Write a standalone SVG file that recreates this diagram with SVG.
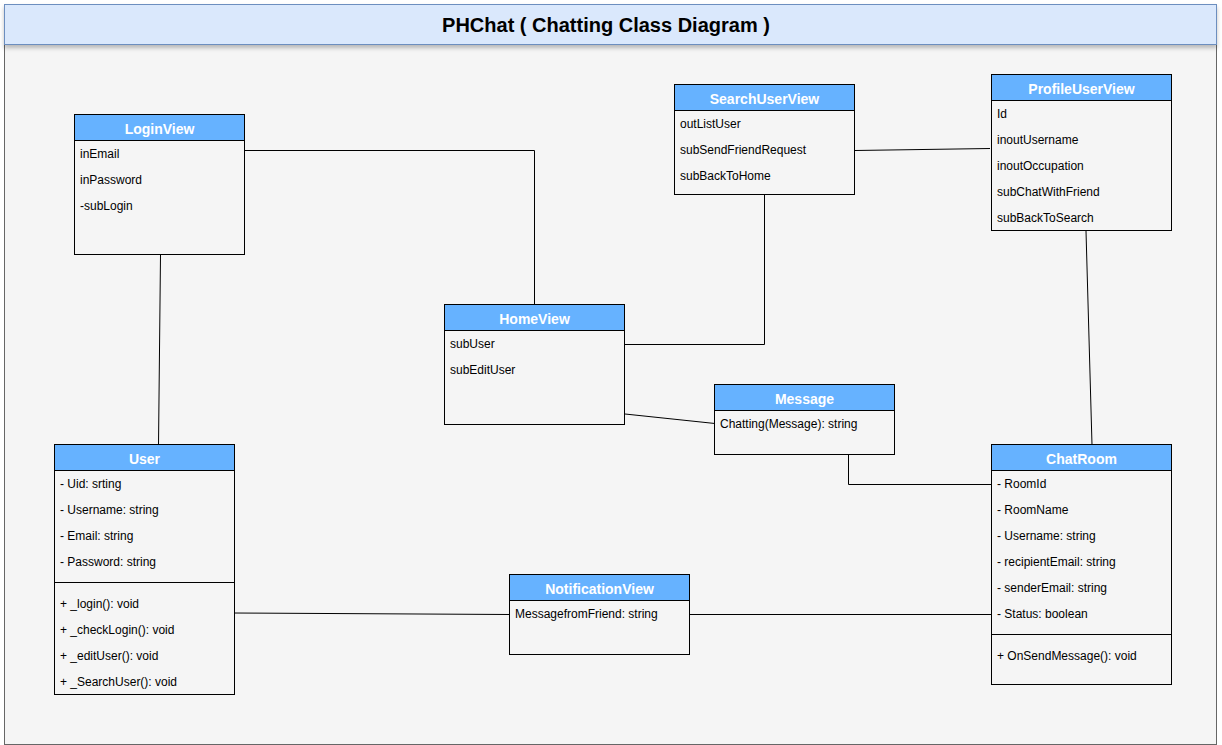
<svg xmlns="http://www.w3.org/2000/svg" width="1222" height="745" viewBox="0 0 1222 745">
<defs>
<style>
.hdr{fill:#66b2ff;stroke:#000;stroke-width:1}
.body{fill:#f5f5f5;stroke:#000;stroke-width:1}
.t{font-family:"Liberation Sans",Arial,sans-serif;font-size:12px;fill:#000}
.h{font-family:"Liberation Sans",Arial,sans-serif;font-size:14px;font-weight:bold;fill:#fff;text-anchor:middle}
.c{fill:none;stroke:#000;stroke-width:1}
</style>
<filter id="sh" x="-5%" y="-50%" width="110%" height="200%"><feDropShadow dx="0" dy="3" stdDeviation="2" flood-color="#000" flood-opacity="0.25"/></filter>
</defs>
<rect x="0" y="0" width="1222" height="745" fill="#fff"/>
<rect x="4.5" y="44.5" width="1212" height="700" fill="#f5f5f5" stroke="#666"/>
<g id="title">
<rect x="4.5" y="4.5" width="1212" height="40" fill="#dae8fc" stroke="#6c8ebf" filter="url(#sh)"/>
<text x="606" y="32" font-family="Liberation Sans,Arial,sans-serif" font-size="20" font-weight="bold" text-anchor="middle" fill="#000">PHChat ( Chatting Class Diagram )</text>
</g>
<g id="connectors">
<polyline class="c" points="245,150.5 534.5,150.5 534.5,305"/>
<line class="c" x1="160.5" y1="255" x2="158.5" y2="445"/>
<polyline class="c" points="625,344.5 764.5,344.5 764.5,194"/>
<line class="c" x1="855" y1="150.5" x2="990" y2="148.5"/>
<line class="c" x1="1086" y1="231" x2="1092" y2="445"/>
<line class="c" x1="625" y1="414" x2="715" y2="423.5"/>
<polyline class="c" points="848.5,455 848.5,484.5 992,484.5"/>
<line class="c" x1="233" y1="613" x2="510" y2="614.5"/>
<line class="c" x1="690" y1="614.5" x2="992" y2="614.5"/>
</g>
<g id="LoginView">
<rect class="body" x="74.5" y="114.5" width="170" height="140"/>
<rect class="hdr" x="74.5" y="114.5" width="170" height="26"/>
<text class="h" x="159.5" y="134">LoginView</text>
<text class="t" x="80" y="158">inEmail</text>
<text class="t" x="80" y="184">inPassword</text>
<text class="t" x="80" y="210">-subLogin</text>
</g>
<g id="SearchUserView">
<rect class="body" x="674.5" y="84.5" width="180" height="110"/>
<rect class="hdr" x="674.5" y="84.5" width="180" height="26"/>
<text class="h" x="764.5" y="104">SearchUserView</text>
<text class="t" x="680" y="128">outListUser</text>
<text class="t" x="680" y="154">subSendFriendRequest</text>
<text class="t" x="680" y="180">subBackToHome</text>
</g>
<g id="ProfileUserView">
<rect class="body" x="991.5" y="74.5" width="180" height="156"/>
<rect class="hdr" x="991.5" y="74.5" width="180" height="26"/>
<text class="h" x="1081.5" y="94">ProfileUserView</text>
<text class="t" x="997" y="118">Id</text>
<text class="t" x="997" y="144">inoutUsername</text>
<text class="t" x="997" y="170">inoutOccupation</text>
<text class="t" x="997" y="196">subChatWithFriend</text>
<text class="t" x="997" y="222">subBackToSearch</text>
</g>
<g id="HomeView">
<rect class="body" x="444.5" y="304.5" width="180" height="120"/>
<rect class="hdr" x="444.5" y="304.5" width="180" height="26"/>
<text class="h" x="534.5" y="324">HomeView</text>
<text class="t" x="450" y="348">subUser</text>
<text class="t" x="450" y="374">subEditUser</text>
</g>
<g id="Message">
<rect class="body" x="714.5" y="384.5" width="180" height="70"/>
<rect class="hdr" x="714.5" y="384.5" width="180" height="26"/>
<text class="h" x="804.5" y="404">Message</text>
<text class="t" x="720" y="428">Chatting(Message): string</text>
</g>
<g id="User">
<rect class="body" x="54.5" y="444.5" width="180" height="250"/>
<rect class="hdr" x="54.5" y="444.5" width="180" height="26"/>
<text class="h" x="144.5" y="464">User</text>
<text class="t" x="60" y="488">- Uid: srting</text>
<text class="t" x="60" y="514">- Username: string</text>
<text class="t" x="60" y="540">- Email: string</text>
<text class="t" x="60" y="566">- Password: string</text>
<line class="c" x1="54.5" y1="582.5" x2="234.5" y2="582.5"/>
<text class="t" x="60" y="608">+ _login(): void</text>
<text class="t" x="60" y="634">+ _checkLogin(): void</text>
<text class="t" x="60" y="660">+ _editUser(): void</text>
<text class="t" x="60" y="686">+ _SearchUser(): void</text>
</g>
<g id="ChatRoom">
<rect class="body" x="991.5" y="444.5" width="180" height="240"/>
<rect class="hdr" x="991.5" y="444.5" width="180" height="26"/>
<text class="h" x="1081.5" y="464">ChatRoom</text>
<text class="t" x="997" y="488">- RoomId</text>
<text class="t" x="997" y="514">- RoomName</text>
<text class="t" x="997" y="540">- Username: string</text>
<text class="t" x="997" y="566">- recipientEmail: string</text>
<text class="t" x="997" y="592">- senderEmail: string</text>
<text class="t" x="997" y="618">- Status: boolean</text>
<line class="c" x1="991.5" y1="634.5" x2="1171.5" y2="634.5"/>
<text class="t" x="997" y="660">+ OnSendMessage(): void</text>
</g>
<g id="NotificationView">
<rect class="body" x="509.5" y="574.5" width="180" height="80"/>
<rect class="hdr" x="509.5" y="574.5" width="180" height="26"/>
<text class="h" x="599.5" y="594">NotificationView</text>
<text class="t" x="515" y="618">MessagefromFriend: string</text>
</g>
</svg>
